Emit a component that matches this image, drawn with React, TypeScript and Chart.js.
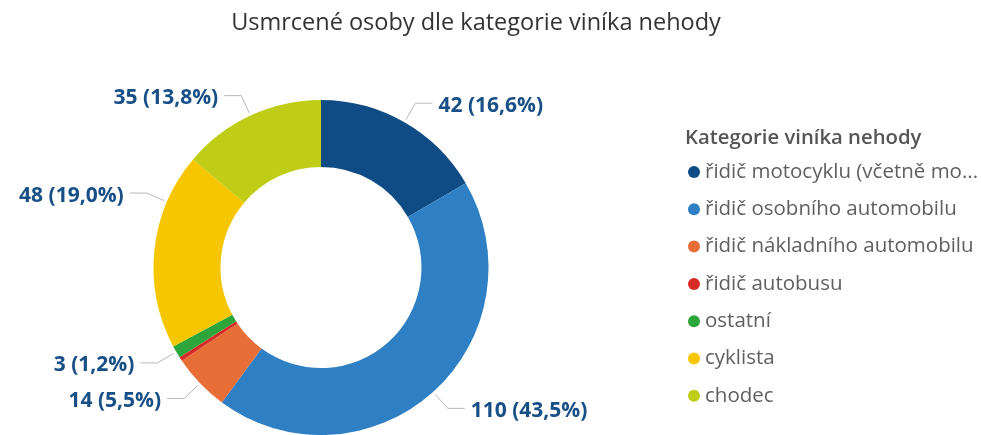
import React, { useEffect, useRef } from "react";
import { Chart, registerables } from "chart.js";

Chart.register(...registerables);

const chartTitle = "Usmrcené osoby dle kategorie viníka nehody";
const legendTitle = "Kategorie viníka nehody";
const categories = [
  "řidič motocyklu (včetně mo...",
  "řidič osobního automobilu",
  "řidič nákladního automobilu",
  "řidič autobusu",
  "ostatní",
  "cyklista",
  "chodec",
];
const values = [42, 110, 14, 1, 3, 48, 35];
const colors = ["#0f4c86", "#2e7fc3", "#e86e37", "#d62b27", "#2ca53a", "#f6c700", "#c0cd17"];
// where along each slice its leader line attaches (0 = start, 1 = end)
const labelAnchors = [0.5, 0.5, 0.5, 0.5, 0.5, 0.75, 0.5];
const showLabel = [true, true, true, false, true, true, true];

const FONT = "'Open Sans', 'Noto Sans', sans-serif";

const fmtPct = (v: number, total: number) => (v / total * 100).toFixed(1).replace(".", ",");

const labelPlugin = {
  id: "leaderLabels",
  afterDatasetsDraw(chart: any) {
    const ctx = chart.ctx;
    const meta = chart.getDatasetMeta(0);
    const total = values.reduce((a, b) => a + b, 0);
    ctx.save();
    meta.data.forEach((arc: any, i: number) => {
      if (!showLabel[i]) return;
      const { x, y, startAngle, endAngle, outerRadius } = arc.getProps(["x", "y", "startAngle", "endAngle", "outerRadius"], true);
      const a = startAngle + (endAngle - startAngle) * labelAnchors[i];
      const c = Math.cos(a), s = Math.sin(a);
      const p0x = x + c * (outerRadius + 3), p0y = y + s * (outerRadius + 3);
      const p1x = x + c * (outerRadius + 22), p1y = y + s * (outerRadius + 22);
      const right = c >= 0;
      const p2x = p1x + (right ? 17 : -17);
      ctx.strokeStyle = "#b8b8b8";
      ctx.lineWidth = 1;
      ctx.beginPath();
      ctx.moveTo(p0x, p0y);
      ctx.lineTo(p1x, p1y);
      ctx.lineTo(p2x, p1y);
      ctx.stroke();
      ctx.font = `bold 21px ${FONT}`;
      ctx.fillStyle = "#174f86";
      ctx.textBaseline = "middle";
      ctx.textAlign = right ? "left" : "right";
      const txt = `${values[i]} (${fmtPct(values[i], total)}%)`;
      ctx.fillText(txt, p2x + (right ? 6 : -6), p1y + 2.5);
    });
    ctx.restore();
  },
};

const decorPlugin = {
  id: "decor",
  afterDraw(chart: any) {
    const ctx = chart.ctx;
    ctx.save();
    ctx.textBaseline = "middle";
    ctx.textAlign = "center";
    ctx.fillStyle = "#333333";
    ctx.font = `23.5px ${FONT}`;
    ctx.fillText(chartTitle, 476, 23);

    ctx.textAlign = "left";
    ctx.fillStyle = "#555555";
    ctx.font = `600 20.3px ${FONT}`;
    ctx.fillText(legendTitle, 685, 138);

    ctx.font = `20.5px ${FONT}`;
    categories.forEach((cat, i) => {
      const cy = 172 + i * 37.3;
      ctx.fillStyle = colors[i];
      ctx.beginPath();
      ctx.arc(694, cy, 6, 0, Math.PI * 2);
      ctx.fill();
      ctx.fillStyle = "#5f5f5f";
      ctx.fillText(cat, 705, cy);
    });
    ctx.restore();
  },
};

export default function App() {
  const ref = useRef<HTMLCanvasElement | null>(null);
  useEffect(() => {
    if (!ref.current) return;
    const chart = new Chart(ref.current, {
      type: "doughnut",
      data: {
        labels: categories,
        datasets: [
          {
            data: values,
            backgroundColor: colors,
            borderWidth: 0,
          },
        ],
      },
      options: {
        responsive: false,
        animation: false,
        devicePixelRatio: 1,
        cutout: "60%",
        layout: { padding: { left: 152, right: 491, top: 100, bottom: -3 } },
        plugins: {
          legend: { display: false },
          title: { display: false },
          tooltip: { enabled: false },
        },
      },
      plugins: [labelPlugin, decorPlugin],
    });
    return () => chart.destroy();
  }, []);
  return (
    <div style={{ position: "absolute", left: 0, top: 0, width: 981, height: 435, background: "#fff" }}>
      <canvas ref={ref} width={981} height={435} style={{ width: 981, height: 435, display: "block" }} />
    </div>
  );
}
